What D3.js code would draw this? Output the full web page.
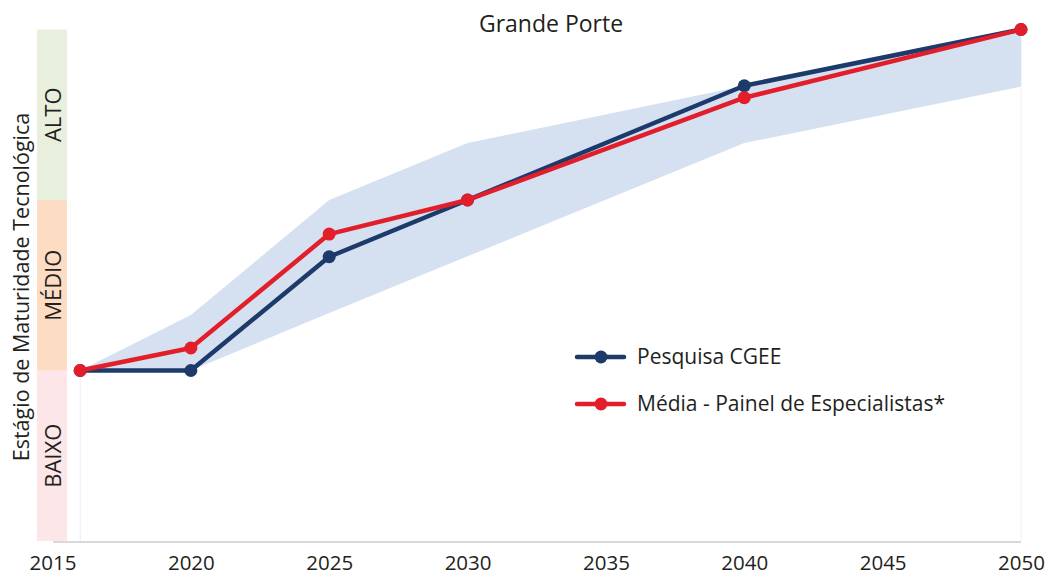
<!DOCTYPE html>
<html>
<head>
<meta charset="utf-8">
<script src="https://cdn.jsdelivr.net/npm/d3@7"></script>
<style>
  body { margin: 0; background: #fff; }
  text { font-family: "Open Sans", "Noto Sans", sans-serif; fill: #231f20; }
</style>
</head>
<body>
<svg id="chart" width="1048" height="576"></svg>
<script>
//
// Data
//
var years = [2016, 2020, 2025, 2030, 2040, 2050]
var pesquisa = [1, 1, 1.667, 2, 2.67, 3]
var media = [1, 1.132, 1.8, 2, 2.6, 3]
var faixaMin = [1, 1, 1.337, 1.67, 2.334, 2.665]
var faixaMax = [1, 1.325, 2, 2.334, 2.67, 3]
var tickYears = [2015, 2020, 2025, 2030, 2035, 2040, 2045, 2050]
var stages = [
  { name: 'BAIXO', from: 0, to: 1, color: '#fce6e7' },
  { name: 'MÉDIO', from: 1, to: 2, color: '#fddcc4' },
  { name: 'ALTO', from: 2, to: 3, color: '#e9efdd' }
]
var series = [
  { name: 'Pesquisa CGEE', values: pesquisa, color: '#1c3a6a' },
  { name: 'Média - Painel de Especialistas*', values: media, color: '#e31e2b' }
]

//
// Scales
//
var svg = d3.select('#chart')
var x = d3.scaleLinear().domain([2015, 2050]).range([52.5, 1021])
var y = d3.scaleLinear().domain([0, 3]).range([541, 29.5])

// stage bands on the left
svg.append('g').selectAll('rect')
  .data(stages)
  .join('rect')
    .attr('x', 37)
    .attr('width', 30)
    .attr('y', function (d) { return y(d.to) })
    .attr('height', function (d) { return y(d.from) - y(d.to) })
    .attr('fill', function (d) { return d.color })

svg.append('g').selectAll('text')
  .data(stages)
  .join('text')
    .attr('transform', function (d) {
      return 'translate(61,' + y((d.from + d.to) / 2) + ') rotate(-90)'
    })
    .attr('text-anchor', 'middle')
    .style('font-size', '22px')
    .text(function (d) { return d.name })

svg.append('text')
  .attr('transform', 'translate(29,287) rotate(-90)')
  .attr('text-anchor', 'middle')
  .style('font-size', '21.5px')
  .text('Estágio de Maturidade Tecnológica')

// faint plot border lines
svg.append('line')
  .attr('x1', x(2016)).attr('x2', x(2016))
  .attr('y1', y(1)).attr('y2', y(0))
  .attr('stroke', '#ececf6').attr('stroke-width', 1)
svg.append('line')
  .attr('x1', x(2050)).attr('x2', x(2050))
  .attr('y1', y(3)).attr('y2', y(0))
  .attr('stroke', '#f0f0f4').attr('stroke-width', 1)

// range area
var idx = d3.range(years.length)
var area = d3.area()
  .x(function (i) { return x(years[i]) })
  .y0(function (i) { return y(faixaMin[i]) })
  .y1(function (i) { return y(faixaMax[i]) })
svg.append('path')
  .datum(idx)
  .attr('d', area)
  .attr('fill', '#d5e0f1')

// x axis
var xAxis = d3.axisBottom(x)
  .tickValues(tickYears)
  .tickFormat(d3.format('d'))
  .tickSize(0)
  .tickPadding(13)
var gx = svg.append('g')
  .attr('transform', 'translate(0,' + (y(0) + 1) + ')')
  .call(xAxis)
gx.select('.domain').remove()
gx.selectAll('text')
  .style('font-size', '20.5px')
  .style('font-family', '"Open Sans", "Noto Sans", sans-serif')
  .attr('fill', '#231f20')
svg.append('line')
  .attr('x1', 53).attr('x2', x(2050))
  .attr('y1', y(0) + 1).attr('y2', y(0) + 1)
  .attr('stroke', '#d9d9d9').attr('stroke-width', 2)

// lines and points
series.forEach(function (s) {
  var l = d3.line()
    .x(function (i) { return x(years[i]) })
    .y(function (i) { return y(s.values[i]) })
  var g = svg.append('g')
  g.append('path')
    .datum(idx)
    .attr('d', l)
    .attr('fill', 'none')
    .attr('stroke', s.color)
    .attr('stroke-width', 4.5)
    .attr('stroke-linejoin', 'round')
  g.selectAll('circle')
    .data(idx)
    .join('circle')
      .attr('cx', function (i) { return x(years[i]) })
      .attr('cy', function (i) { return y(s.values[i]) })
      .attr('r', 6.5)
      .attr('fill', s.color)
})

// title
svg.append('text')
  .attr('x', 551)
  .attr('y', 32)
  .attr('text-anchor', 'middle')
  .style('font-size', '23px')
  .text('Grande Porte')

// legend
var legend = svg.append('g').attr('transform', 'translate(577,357)')
series.forEach(function (s, i) {
  var g = legend.append('g').attr('transform', 'translate(0,' + (i * 47) + ')')
  g.append('line')
    .attr('x1', 0).attr('x2', 47)
    .attr('stroke', s.color).attr('stroke-width', 4.5)
    .attr('stroke-linecap', 'round')
  g.append('circle').attr('cx', 24).attr('r', 6.5).attr('fill', s.color)
  g.append('text')
    .attr('x', 60).attr('y', 7)
    .style('font-size', '21px')
    .text(s.name)
})
</script>
</body>
</html>
